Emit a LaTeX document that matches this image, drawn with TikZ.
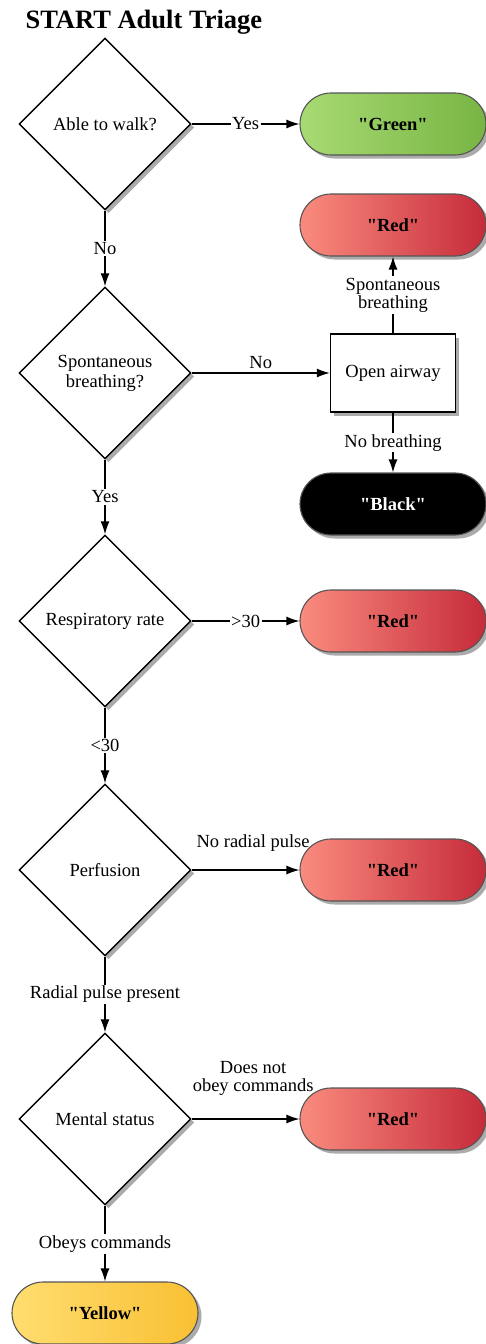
\documentclass[tikz,border=0pt]{standalone}
\usepackage{fontspec}
\setmainfont{Liberation Serif}
\newfontfamily\termfont{Liberation Serif}
\usepackage{tikz}
\usetikzlibrary{shapes.geometric, shadows, arrows.meta}

\definecolor{greenL}{HTML}{A8DA73}
\definecolor{greenR}{HTML}{78B544}
\definecolor{redL}{HTML}{FA8B7E}
\definecolor{redR}{HTML}{C62B3A}
\definecolor{yellowL}{HTML}{FFDD70}
\definecolor{yellowR}{HTML}{F9C033}
\definecolor{rim}{HTML}{555555}

\newcommand{\bodyfont}{\fontsize{18.5}{20}\selectfont}

\tikzset{
  softshadow/.style={drop shadow={shadow xshift=3.5pt, shadow yshift=-3.5pt, opacity=0.55, fill=black!60}},
  decision/.style={diamond, draw, line width=1.4pt, fill=white, minimum width=172pt,
    minimum height=172pt, inner sep=0pt, align=center, softshadow},
  action/.style={rectangle, draw, line width=1.4pt, fill=white, minimum width=125pt,
    minimum height=78pt, align=center, softshadow},
  terminal/.style={rectangle, rounded corners=31pt, draw=rim, line width=1.1pt,
    minimum width=186pt, minimum height=62pt, font=\bodyfont\termfont\bfseries, softshadow},
  flow/.style={line width=1.3pt, -{Latex[length=13pt,width=9pt]}},
  lbl/.style={fill=white, inner sep=1.5pt, align=center}
}

\begin{document}
\begin{tikzpicture}[x=1pt, y=-1pt, font=\bodyfont]
  \useasboundingbox (0,0) rectangle (486,1344);
  \node[anchor=west, font=\bfseries\fontsize{26.5}{30}\selectfont] (title) at (22,22) {START Adult Triage};

  % left column: questions
  \node[decision] (walk) at (105,124) {Able to walk?};
  \node[decision] (breath) at (105,373) {Spontaneous\\breathing?};
  \node[decision] (resp) at (105,621) {Respiratory rate};
  \node[decision] (perf) at (105,870) {Perfusion};
  \node[decision] (mental) at (105,1119) {Mental status};

  % right column: outcomes
  \node[terminal, left color=greenL, right color=greenR] (green) at (393,124) {"Green"};
  \node[terminal, left color=redL, right color=redR] (redA) at (393,225) {"Red"};
  \node[action] (airway) at (393,373) {Open airway};
  \node[terminal, fill=black, text=white] (black) at (393,504) {"Black"};
  \node[terminal, left color=redL, right color=redR] (redB) at (393,621) {"Red"};
  \node[terminal, left color=redL, right color=redR] (redC) at (393,870) {"Red"};
  \node[terminal, left color=redL, right color=redR] (redD) at (393,1119) {"Red"};
  \node[terminal, left color=yellowL, right color=yellowR] (yellow) at (105,1313) {"Yellow"};

  \draw[flow] (walk) -- node[lbl] {Yes} (green);
  \draw[flow] (walk) -- node[lbl] {No} (breath);
  \draw[flow] (breath) -- node[above] {No} (airway);
  \draw[flow] (airway) -- node[lbl] {Spontaneous\\[-2pt]breathing} (redA);
  \draw[flow] (airway) -- node[lbl] {No breathing} (black);
  \draw[flow] (breath) -- node[lbl] {Yes} (resp);
  \draw[flow] (resp) -- node[lbl] {>30} (redB);
  \draw[flow] (resp) -- node[lbl] {<30} (perf);
  \draw[flow] (perf) -- node[above=15pt, pos=0.57] {No radial pulse} (redC);
  \draw[flow] (perf) -- node[lbl] {Radial pulse present} (mental);
  \draw[flow] (mental) -- node[above=20pt, pos=0.57, align=center] {Does not\\[-2pt]obey commands} (redD);
  \draw[flow] (mental) -- node[lbl] {Obeys commands} (yellow);
\end{tikzpicture}
\end{document}
